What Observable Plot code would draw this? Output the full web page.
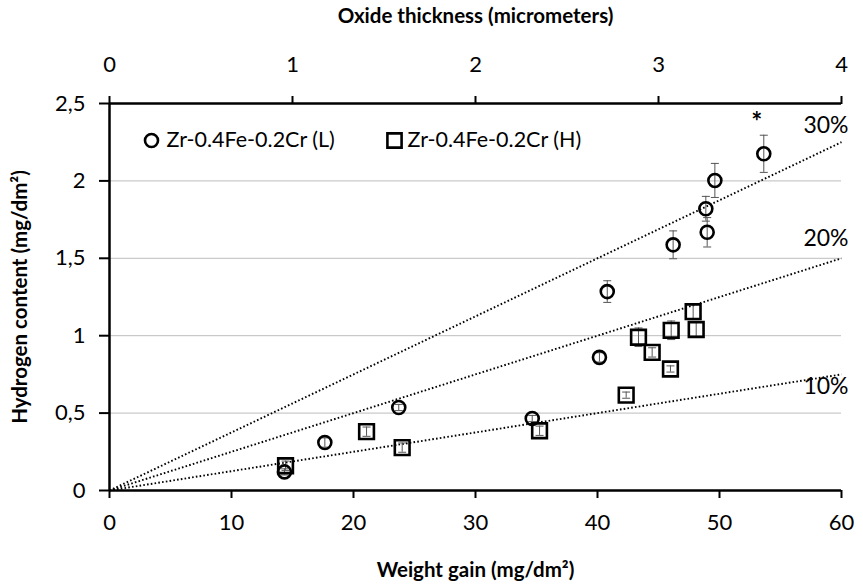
<!DOCTYPE html>
<html>
<head>
<meta charset="utf-8">
<script src="https://cdn.jsdelivr.net/npm/d3@7"></script>
<script src="https://cdn.jsdelivr.net/npm/@observablehq/plot@0.6"></script>
<style>
  html, body { margin: 0; padding: 0; background: #fff; }
  #chart { width: 863px; height: 585px; }
  svg { font-family: Lato, "Open Sans", sans-serif; }
</style>
</head>
<body>
<div id="chart"></div>
<script>
// Zr-0.4Fe-0.2Cr (L): weight gain (mg/dm²), hydrogen content (mg/dm²), error
const weightL   = [14.34, 17.65, 23.71, 34.65, 40.16, 40.80, 46.20, 48.99, 48.88, 49.62, 53.63];
const hydrogenL = [0.12, 0.31, 0.536, 0.465, 0.86, 1.285, 1.587, 1.668, 1.82, 2.003, 2.175];
const errorL    = [0.02, 0.03, 0.02, 0.02, 0.03, 0.07, 0.09, 0.095, 0.08, 0.11, 0.12];

// Zr-0.4Fe-0.2Cr (H)
const weightH   = [14.43, 21.07, 23.99, 35.25, 42.35, 43.36, 44.48, 45.98, 46.04, 47.84, 48.09];
const hydrogenH = [0.16, 0.38, 0.277, 0.386, 0.616, 0.99, 0.892, 0.785, 1.035, 1.155, 1.04];
const errorH    = [0.03, 0.03, 0.03, 0.03, 0.02, 0.06, 0.03, 0.02, 0.06, 0.05, 0.05];

const seriesNames = ["Zr-0.4Fe-0.2Cr (L)", "Zr-0.4Fe-0.2Cr (H)"];

// Hydrogen pickup fractions: H = fraction * weight gain * (2 / 16)
const pickupFractions = [0.1, 0.2, 0.3];
const pickupLabels = ["10%", "20%", "30%"];

// Axis ticks
const weightTicks = [0, 10, 20, 30, 40, 50, 60];
const hydrogenTicks = [0, 0.5, 1, 1.5, 2, 2.5];
const gridTicks = [0.5, 1, 1.5, 2];
const oxideTicks = [0, 1, 2, 3, 4];
const mgPerMicron = 15; // weight gain corresponding to 1 µm of oxide

const xMax = 60, yMax = 2.5;

const toRows = (xs, ys, es, series) => xs.map((x, i) => ({x, y: ys[i], e: es[i], series}));
const rowsL = toRows(weightL, hydrogenL, errorL, seriesNames[0]);
const rowsH = toRows(weightH, hydrogenH, errorH, seriesNames[1]);
const allRows = rowsL.concat(rowsH);

const pickupLines = pickupFractions.map((f, i) => ({
  f, label: pickupLabels[i], x1: 0, y1: 0, x2: xMax, y2: f * xMax * 2 / 16
}));

// Short horizontal stroke used as an error-bar cap
const cap = {draw(ctx) { ctx.moveTo(-4, 0); ctx.lineTo(4, 0); }};
const fmtComma = d => String(d).replace(".", ",");

// Label for one pickup line, shifted vertically by a constant offset
const pickupLabel = (f, dy) => Plot.text(pickupLines.filter(d => d.f === f), {
  x: "x2", y: "y2", text: "label", textAnchor: "end", dx: 7, dy, fontSize: 23
});

const chart = Plot.plot({
  width: 863,
  height: 585,
  marginLeft: 109,
  marginRight: 22,
  marginTop: 103,
  marginBottom: 95,
  style: {fontFamily: "Lato, 'Open Sans', sans-serif", color: "#000", background: "#fff"},
  x: {domain: [0, xMax]},
  y: {domain: [0, yMax]},
  marks: [
    Plot.gridY(gridTicks, {stroke: "#bdbdbd", strokeOpacity: 1, strokeWidth: 1}),
    // pickup reference lines
    Plot.link(pickupLines, {x1: "x1", y1: "y1", x2: "x2", y2: "y2",
      stroke: "#000", strokeWidth: 1.9, strokeDasharray: "1.6,2.2"}),
    pickupLabel(0.3, -17),
    pickupLabel(0.2, -20),
    pickupLabel(0.1, 12),
    // error bars
    Plot.ruleX(allRows, {x: "x", y1: d => d.y - d.e, y2: d => d.y + d.e, stroke: "#555", strokeWidth: 1}),
    Plot.dot(allRows, {x: "x", y: d => d.y + d.e, symbol: cap, stroke: "#555", strokeWidth: 1}),
    Plot.dot(allRows, {x: "x", y: d => d.y - d.e, symbol: cap, stroke: "#555", strokeWidth: 1}),
    // markers
    Plot.dot(rowsL, {x: "x", y: "y", r: 6.5, symbol: "circle", stroke: "#000", strokeWidth: 2.6, fill: "none"}),
    Plot.dot(rowsH, {x: "x", y: "y", r: 8.3, symbol: "square", stroke: "#000", strokeWidth: 2.6, fill: "none"}),
    // asterisk on the highest point
    Plot.text(rowsL.slice(-1), {x: "x", y: d => d.y + d.e, text: () => "*", dx: -7, dy: -13, fontSize: 26, fontWeight: "bold"}),
    // axes frame
    Plot.ruleY([0, yMax], {stroke: "#000", strokeWidth: 2.5}),
    Plot.ruleX([0], {stroke: "#000", strokeWidth: 2.5}),
    Plot.axisX(weightTicks, {anchor: "bottom", tickSize: 8, tickPadding: 16, fontSize: 22,
      stroke: "#000", strokeWidth: 2, label: null}),
    Plot.axisX(oxideTicks.map(t => t * mgPerMicron), {anchor: "top", tickSize: 8, tickPadding: 24, fontSize: 22,
      stroke: "#000", strokeWidth: 2, tickFormat: d => d / mgPerMicron, label: null}),
    Plot.axisY(hydrogenTicks, {anchor: "left", tickSize: 10, tickPadding: 14, fontSize: 22,
      stroke: "#000", strokeWidth: 2, tickFormat: fmtComma, label: null}),
    // axis titles
    Plot.text(["Weight gain (mg/dm²)"], {frameAnchor: "bottom", dy: 80, lineAnchor: "middle", fontSize: 20.5, fontWeight: "bold"}),
    Plot.text(["Oxide thickness (micrometers)"], {frameAnchor: "top", dy: -87, lineAnchor: "middle", fontSize: 20.5, fontWeight: "bold"}),
    Plot.text(["Hydrogen content (mg/dm²)"], {frameAnchor: "left", dx: -89, rotate: -90, textAnchor: "middle", lineAnchor: "middle", fontSize: 20.5, fontWeight: "bold"}),
    // legend
    Plot.dot([seriesNames[0]], {frameAnchor: "top-left", dx: 42, dy: 37, r: 6.5, symbol: "circle", stroke: "#000", strokeWidth: 2.6, fill: "none"}),
    Plot.text([seriesNames[0]], {frameAnchor: "top-left", dx: 57, dy: 37, textAnchor: "start", lineAnchor: "middle", fontSize: 21.5}),
    Plot.dot([seriesNames[1]], {frameAnchor: "top-left", dx: 285, dy: 37, r: 8, symbol: "square", stroke: "#000", strokeWidth: 2.6, fill: "none"}),
    Plot.text([seriesNames[1]], {frameAnchor: "top-left", dx: 298, dy: 37, textAnchor: "start", lineAnchor: "middle", fontSize: 21.5})
  ]
});

document.getElementById("chart").appendChild(chart);
</script>
</body>
</html>
